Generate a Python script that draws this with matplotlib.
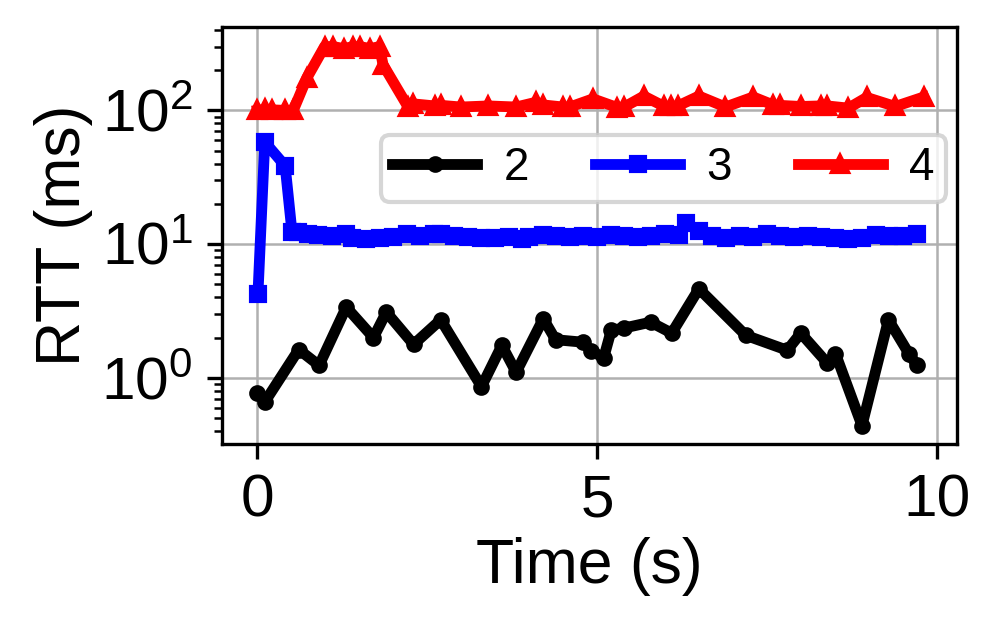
import numpy as np
import matplotlib.pyplot as plt

plt.rcParams['font.family'] = ['Liberation Sans', 'DejaVu Sans']

# series "2"
t2 = [0.0, 0.11, 0.61, 0.91, 1.31, 1.71, 1.90, 2.30, 2.70, 3.30, 3.60, 3.81,
      4.21, 4.39, 4.79, 4.91, 5.10, 5.21, 5.40, 5.79, 6.10, 6.50, 7.19, 7.80,
      8.00, 8.39, 8.51, 8.90, 9.29, 9.59, 9.71]
rtt2 = [0.77, 0.66, 1.63, 1.24, 3.38, 2.0, 3.10, 1.78, 2.72, 0.86, 1.75, 1.10,
        2.77, 1.93, 1.85, 1.59, 1.42, 2.27, 2.36, 2.61, 2.16, 4.64, 2.08, 1.61,
        2.16, 1.29, 1.52, 0.44, 2.72, 1.52, 1.24]

# series "3"
t3 = [0.01, 0.11, 0.41, 0.51, 0.6, 0.75, 0.9, 1.1, 1.3, 1.4, 1.6, 1.8, 2.0,
      2.2, 2.4, 2.6, 2.7, 2.9, 3.1, 3.3, 3.5, 3.7, 3.9, 4.0, 4.2, 4.4, 4.6,
      4.8, 5.0, 5.2, 5.4, 5.6, 5.8, 6.0, 6.2, 6.31, 6.5, 6.7, 6.9, 7.1, 7.3,
      7.5, 7.7, 7.9, 8.1, 8.3, 8.5, 8.7, 8.9, 9.1, 9.3, 9.5, 9.71]
rtt3 = [4.26, 58, 38.5, 12.4, 12.4, 12.0, 11.8, 11.5, 11.9, 11.2, 11.0, 11.1,
        11.3, 11.9, 11.6, 12.0, 11.9, 11.5, 11.3, 11.2, 11.1, 11.3, 11.0, 11.3,
        11.8, 11.5, 11.3, 11.5, 11.3, 11.7, 11.5, 11.3, 11.6, 12.0, 11.8, 14.3,
        12.5, 11.5, 11.2, 11.6, 11.4, 12.0, 11.5, 11.4, 11.6, 11.3, 11.2, 10.9,
        11.2, 11.7, 11.5, 11.6, 12.0]

# series "4"
t4 = [0.0, 0.12, 0.21, 0.41, 0.53, 0.73, 0.99, 1.12, 1.27, 1.41, 1.51, 1.66,
      1.80, 1.85, 2.22, 2.29, 2.61, 2.71, 3.0, 3.4, 3.81, 4.10, 4.20, 4.50,
      4.60, 4.94, 5.30, 5.40, 5.69, 5.99, 6.09, 6.19, 6.50, 6.89, 7.30, 7.59,
      7.69, 8.0, 8.29, 8.39, 8.70, 8.97, 9.39, 9.81]
rtt4 = [100, 102, 101, 100, 100, 175, 300, 300, 290, 300, 300, 290, 300, 220,
        106, 112, 108, 109, 106, 108, 106, 115, 110, 106, 106, 122, 105, 106,
        128, 107, 107, 108, 128, 106, 126, 110, 109, 107, 108, 108, 104, 125,
        107, 126]

fig = plt.figure(figsize=(998 / 300, 629 / 300), dpi=300)
ax = fig.add_axes([0.2224, 0.294, 0.7366, 0.663])

ax.plot(t2, rtt2, color='black', marker='o', markersize=3, linewidth=2.6, label='2')
ax.plot(t3, rtt3, color='blue', marker='s', markersize=3.3, linewidth=2.6, label='3')
ax.plot(t4, rtt4, color='red', marker='^', markersize=3.8, linewidth=2.6, label='4')

ax.set_yscale('log')
ax.set_xlim(-0.52, 10.3)
ax.set_ylim(0.32, 420)
ax.set_xticks([0, 5, 10])
ax.tick_params(labelsize=14.5)
ax.set_xlabel('Time (s)', fontsize=15, labelpad=2)
ax.set_ylabel('RTT (ms)', fontsize=15, labelpad=2)
ax.grid(True, which='major', color='#b0b0b0', linewidth=0.6)

ax.legend(ncol=3, fontsize=11, loc='upper right', bbox_to_anchor=(1.016, 0.797),
          handlelength=1.85, handletextpad=0.57, columnspacing=1.45,
          borderpad=0.25)

fig.savefig('out.png', dpi=300)
